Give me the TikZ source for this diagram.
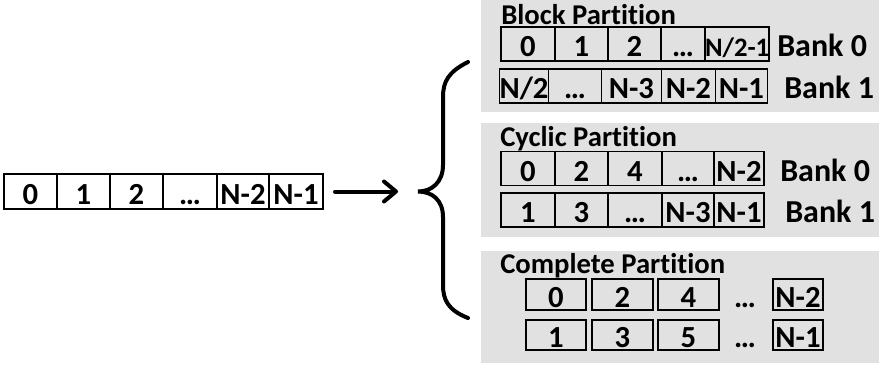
\documentclass[tikz,border=0pt]{standalone}
\usepackage{fontspec}
\setmainfont{Carlito}[Ligatures=NoCommon]
\usepackage{xcolor}
\usetikzlibrary{arrows.meta,positioning}
\definecolor{panelgray}{RGB}{225,225,225}

\begin{document}
\begin{tikzpicture}[x=0.75pt,y=-0.75pt,
                    font=\fontsize{23}{27}\selectfont\bfseries,
                    cell/.style={draw,line width=1.3pt,inner sep=0pt,outer sep=0pt,
                                 minimum width=#1*0.75pt,minimum height=34*0.75pt,
                                 text height=19pt,text depth=0pt},
                    cell/.default=53,
                    bank/.style={anchor=west,inner sep=0pt,text height=19pt,text depth=0pt,
                                 font=\fontsize{24}{28}\selectfont\bfseries},
                    title/.style={anchor=base west,inner sep=0pt,
                                  font=\fontsize{21.5}{26}\selectfont\bfseries},
                    panel/.style={fill=panelgray}]
\useasboundingbox (0,0) rectangle (881,365);

% gray panels
\fill[panel] (481,0) rectangle (879,112);
\fill[panel] (481,123) rectangle (879,237);
\fill[panel] (481,251) rectangle (879,363);

% original array
\node[cell,minimum height=35*0.75pt] (A1) at(30.5,191.5) {0};
\node[cell=53,minimum height=35*0.75pt] (A2) [right=0pt of A1] {1};
\node[cell=53,minimum height=35*0.75pt] (A3) [right=0pt of A2] {2};
\node[cell=54,minimum height=35*0.75pt] (A4) [right=0pt of A3] {…};
\node[cell=52,minimum height=35*0.75pt] (A5) [right=0pt of A4] {N-2};
\node[cell=54,minimum height=35*0.75pt] (A6) [right=0pt of A5] {N-1};

% brace
\coordinate (TIP) at (418,191.5);
\draw[line width=3pt,line cap=round]
      (468,62) .. controls (448,72) and (443,82) .. (443,97) -- (443,165)
      .. controls (443,182) and (432,191.5) .. (TIP)
      .. controls (432,191.5) and (443,200) .. (443,217) -- (443,285)
      .. controls (443,300) and (448,310) .. (468,318);
\draw[line width=3pt,line cap=round,shorten <=9pt,shorten >=15pt,
      -{Straight Barb[length=9pt,width=15pt,round]}] (A6) -- (TIP);

% block partition
\node[title] (BLOCK) at(501,24) {Block Partition};
\node[cell=54] (B0C1) at(528,44) {0};
\node[cell=53] (B0C2) [right=0pt of B0C1] {1};
\node[cell=53] (B0C3) [right=0pt of B0C2] {2};
\node[cell=44] (B0C4) [right=0pt of B0C3] {…};
\node[cell=61,font=\fontsize{20}{24}\selectfont\bfseries] (B0C5) [right=0pt of B0C4] {N/2-1};
\node[bank] (BANK0B) at(777,44) {Bank 0};
\node[cell=46] (B1C1) at(524,86) {N/2};
\node[cell=53] (B1C2) [right=0pt of B1C1] {…};
\node[cell=60] (B1C3) [right=0pt of B1C2] {N-3};
\node[cell=54] (B1C4) [right=0pt of B1C3] {N-2};
\node[cell=52] (B1C5) [right=0pt of B1C4] {N-1};
\node[bank] (BANK1B) at(784,86) {Bank 1};

% cyclic partition
\node[title] (CYCLIC) at(500,146) {Cyclic Partition};
\node[cell=54] (C0C1) at(528,168.5) {0};
\node[cell=53] (C0C2) [right=0pt of C0C1] {2};
\node[cell=54] (C0C3) [right=0pt of C0C2] {4};
\node[cell=52] (C0C4) [right=0pt of C0C3] {…};
\node[cell=50] (C0C5) [right=0pt of C0C4] {N-2};
\node[bank] (BANK0C) at(780,168.5) {Bank 0};
\node[cell=54] (C1C1) at(528,210) {1};
\node[cell=53] (C1C2) [right=0pt of C1C1] {3};
\node[cell=54] (C1C3) [right=0pt of C1C2] {…};
\node[cell=52] (C1C4) [right=0pt of C1C3] {N-3};
\node[cell=50] (C1C5) [right=0pt of C1C4] {N-1};
\node[bank] (BANK1C) at(785,210) {Bank 1};

% complete partition
\node[title] (COMPLETE) at(500,273) {Complete Partition};
\node[cell=60,minimum height=31*0.75pt] (P0C1) at(556,294.5) {0};
\node[cell=61,minimum height=31*0.75pt] (P0C2) at(622.5,294.5) {2};
\node[cell=61,minimum height=31*0.75pt] (P0C3) at(688.5,294.5) {4};
\node (P0DOTS) at(745,294.5) [inner sep=0pt,text height=19pt,text depth=0pt] {…};
\node[cell=50,minimum height=31*0.75pt] (P0C4) at(798,294.5) {N-2};
\node[cell=60,minimum height=30*0.75pt] (P1C1) at(556,335) {1};
\node[cell=61,minimum height=30*0.75pt] (P1C2) at(622.5,335) {3};
\node[cell=61,minimum height=30*0.75pt] (P1C3) at(688.5,335) {5};
\node (P1DOTS) at(745,335) [inner sep=0pt,text height=19pt,text depth=0pt] {…};
\node[cell=50,minimum height=30*0.75pt] (P1C4) at(798,335) {N-1};
\end{tikzpicture}
\end{document}
